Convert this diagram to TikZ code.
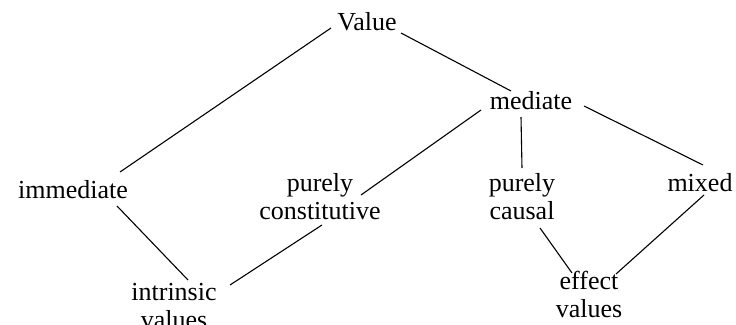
\documentclass[tikz,border=0pt]{standalone}
\usepackage{fontspec}
\setmainfont{Liberation Serif}
\usetikzlibrary{calc}
\begin{document}
\begin{tikzpicture}[x=1pt,y=-1pt,
  lbl/.style={inner sep=0pt,align=center,font=\fontsize{26}{28}\selectfont},
  link/.style={line width=1.1pt,black}]
\useasboundingbox (0,0) rectangle (736,324);
\node[lbl] (V) at (367,22) {Value};
\node[lbl] (M) at (531,101) {mediate};
\node[lbl] (I) at (73,190) {immediate};
\node[lbl] (PC) at (320,197) {purely\\constitutive};
\node[lbl] (PCa) at (522,197) {purely\\causal};
\node[lbl] (X) at (700,183) {mixed};
\node[lbl] (IV) at (174,306) {intrinsic\\values};
\node[lbl] (EV) at (589,294) {effect\\values};
\draw[link] ($(V)+(-36,6)$) -- ($(I)+(47,-18)$);
\draw[link] ($(V)+(34,11)$) -- ($(M)+(-20,-10)$);
\draw[link] ($(M)+(-50,9)$) -- ($(PC)+(41,-2)$);
\draw[link] ($(M)+(-10,16)$) -- ($(PCa)+(0,-29)$);
\draw[link] ($(M)+(53,5)$) -- ($(X)+(3,-18)$);
\draw[link] ($(I)+(44,16)$) -- ($(IV)+(14,-26)$);
\draw[link] ($(PC)+(2,28)$) -- ($(IV)+(56,-21)$);
\draw[link] ($(PCa)+(18,31)$) -- ($(EV)+(-17,-21)$);
\draw[link] ($(X)+(4,12)$) -- ($(EV)+(27,-20)$);
\end{tikzpicture}
\end{document}
